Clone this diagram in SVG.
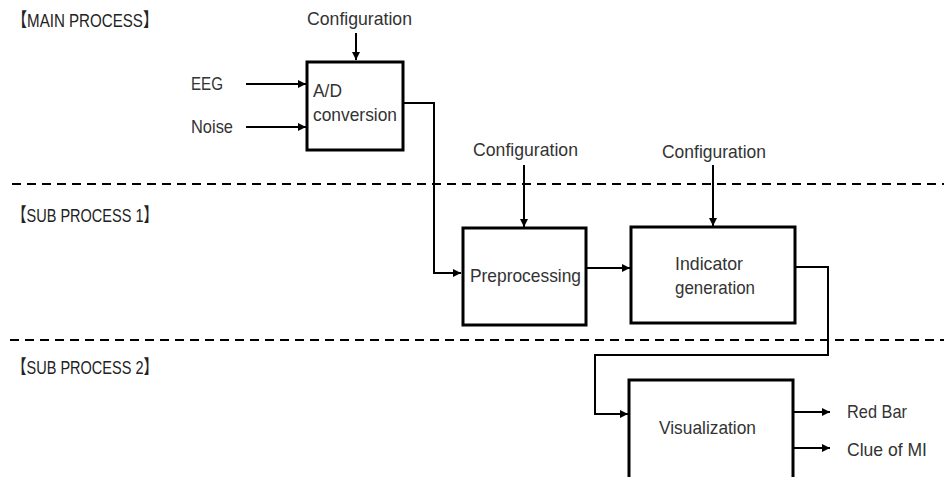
<svg xmlns="http://www.w3.org/2000/svg" width="944" height="477" viewBox="0 0 944 477">
<style>
  text { font-family: "Liberation Sans", "Noto Sans CJK JP", sans-serif; font-size: 19px; fill: #333; }
  .sec { fill: #222; }
  .box { fill: #fff; stroke: #000; stroke-width: 3; }
  .wire { fill: none; stroke: #000; stroke-width: 2; }
  .dash { fill: none; stroke: #000; stroke-width: 2; stroke-dasharray: 9 6; }
</style>
<defs>
  <marker id="arr" markerUnits="userSpaceOnUse" markerWidth="9" markerHeight="8" refX="8" refY="4" orient="auto">
    <path d="M0,0 L8,4 L0,8 z" fill="#000"/>
  </marker>
</defs>
<rect width="944" height="477" fill="#fff"/>

<g id="sections">
  <line class="dash" x1="12" y1="184" x2="944" y2="184"/>
  <line class="dash" x1="10" y1="340" x2="944" y2="340"/>
  <text class="sec" x="12" y="27" textLength="146" lengthAdjust="spacingAndGlyphs">【MAIN PROCESS】</text>
  <text class="sec" x="12" y="222" textLength="146" lengthAdjust="spacingAndGlyphs">【SUB PROCESS 1】</text>
  <text class="sec" x="12" y="374" textLength="146" lengthAdjust="spacingAndGlyphs">【SUB PROCESS 2】</text>
</g>

<g id="connectors">
  <line class="wire" x1="356" y1="33" x2="356" y2="60" marker-end="url(#arr)"/>
  <line class="wire" x1="246" y1="84" x2="306" y2="84" marker-end="url(#arr)"/>
  <line class="wire" x1="246" y1="127" x2="306" y2="127" marker-end="url(#arr)"/>
  <polyline class="wire" points="403,103 434,103 434,273 461,273" marker-end="url(#arr)"/>
  <line class="wire" x1="524" y1="165" x2="524" y2="227" marker-end="url(#arr)"/>
  <line class="wire" x1="713" y1="165" x2="713" y2="226" marker-end="url(#arr)"/>
  <line class="wire" x1="587" y1="268" x2="630" y2="268" marker-end="url(#arr)"/>
  <polyline class="wire" points="796,267 828,267 828,355 595,355 595,414 628,414" marker-end="url(#arr)"/>
  <line class="wire" x1="794" y1="412" x2="830" y2="412" marker-end="url(#arr)"/>
  <line class="wire" x1="794" y1="448" x2="830" y2="448" marker-end="url(#arr)"/>
</g>

<g id="inputs">
  <text x="307" y="25" textLength="105" lengthAdjust="spacingAndGlyphs">Configuration</text>
  <text x="191" y="90" textLength="32" lengthAdjust="spacingAndGlyphs">EEG</text>
  <text x="191" y="133" textLength="42" lengthAdjust="spacingAndGlyphs">Noise</text>
  <text x="473" y="156" textLength="105" lengthAdjust="spacingAndGlyphs">Configuration</text>
  <text x="662" y="158" textLength="104" lengthAdjust="spacingAndGlyphs">Configuration</text>
</g>

<g id="ad-conversion">
  <rect class="box" x="307" y="62" width="96" height="88"/>
  <text x="313" y="97" textLength="29" lengthAdjust="spacingAndGlyphs">A/D</text>
  <text x="313" y="121" textLength="84" lengthAdjust="spacingAndGlyphs">conversion</text>
</g>

<g id="preprocessing">
  <rect class="box" x="463" y="228" width="123" height="97"/>
  <text x="470" y="282" textLength="111" lengthAdjust="spacingAndGlyphs">Preprocessing</text>
</g>

<g id="indicator-generation">
  <rect class="box" x="631" y="227" width="164" height="96"/>
  <text x="675" y="270" textLength="68" lengthAdjust="spacingAndGlyphs">Indicator</text>
  <text x="675" y="294" textLength="80" lengthAdjust="spacingAndGlyphs">generation</text>
</g>

<g id="visualization">
  <rect class="box" x="629" y="380" width="164" height="99"/>
  <text x="659" y="434" textLength="97" lengthAdjust="spacingAndGlyphs">Visualization</text>
</g>

<g id="outputs">
  <text x="847" y="418" textLength="60" lengthAdjust="spacingAndGlyphs">Red Bar</text>
  <text x="847" y="456" textLength="80" lengthAdjust="spacingAndGlyphs">Clue of MI</text>
</g>
</svg>
